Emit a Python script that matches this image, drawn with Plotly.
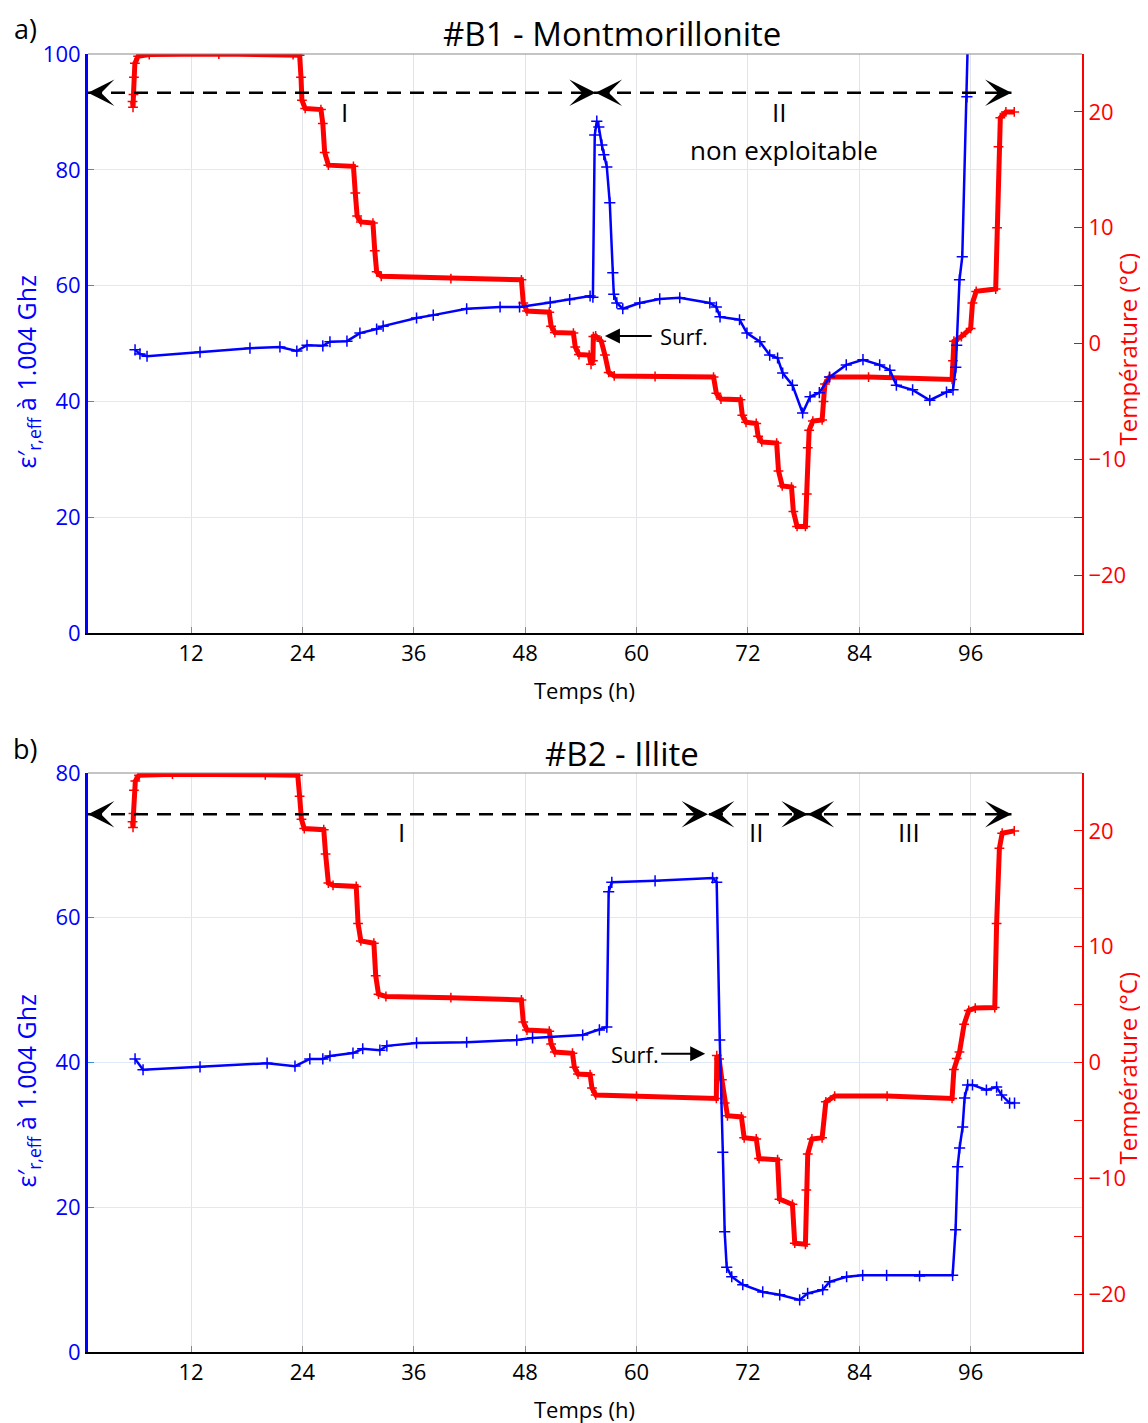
import plotly.graph_objects as go

# ---------------- data: panel a (#B1 - Montmorillonite) ----------------
a_temp_t = [5.7, 5.75, 5.8, 5.85, 5.95, 6.3, 7.5, 15.0, 23.0, 23.7, 23.85, 23.95, 24.3, 26.0, 26.2, 26.4, 26.8,
            29.5, 29.7, 29.9, 30.3, 31.6, 31.8, 32.0, 32.5, 40.0, 47.6, 47.8, 48.2, 50.6, 50.8, 51.2, 53.2, 53.4,
            53.8, 54.9, 55.1, 55.3, 55.35, 55.6, 56.2, 56.6, 57.0, 57.6, 62.0, 68.3, 68.6, 69.1, 71.2, 71.4, 71.8,
            72.9, 73.1, 73.5, 75.1, 75.3, 75.7, 76.7, 76.9, 77.3, 78.2, 78.35, 78.45, 78.6, 79.0, 80.0, 80.15,
            80.3, 80.8, 85.0, 94.0, 94.1, 94.2, 95.0, 96.0, 96.2, 96.6, 98.7, 98.85, 99.0, 99.2, 99.8, 100.7]
a_temp_v = [20.9, 20.4, 21.5, 23.0, 24.2, 24.8, 24.95, 25.0, 24.95, 24.9, 23.0, 21.0, 20.3, 20.2, 19.0, 16.5, 15.4,
            15.3, 13.0, 11.0, 10.5, 10.4, 8.0, 6.2, 5.8, 5.6, 5.5, 3.5, 2.8, 2.7, 1.5, 0.95, 0.9, -0.3,
            -0.95, -1.0, -1.8, -1.5, 0.6, 0.65, 0.2, -1.0, -2.5, -2.8, -2.85, -2.9, -4.3, -4.8, -4.85, -6.2, -6.8,
            -6.9, -8.0, -8.5, -8.6, -11.0, -12.3, -12.4, -14.5, -15.8, -15.8, -13.0, -9.0, -7.5, -6.7, -6.6, -5.0,
            -3.5, -2.9, -2.9, -3.1, -1.5, 0.2, 0.6, 1.3, 3.5, 4.5, 4.7, 10.0, 17.0, 19.5, 20.0, 20.0]

a_eps_t = [5.97, 6.5, 7.26, 12.97, 18.35, 21.58, 23.4, 24.5, 26.2, 26.97, 28.8, 30.2, 32.0, 32.7, 36.3, 38.1,
           41.7, 45.3, 47.4, 50.7, 52.8, 55.0, 55.3, 55.5, 55.72, 55.94, 56.26, 56.48, 56.8, 57.12, 57.45, 57.55,
           57.88, 58.52, 60.35, 62.5, 64.66, 67.9, 68.6, 69.0, 71.1, 71.9, 73.3, 74.35, 75.2, 75.75, 76.8, 77.9,
           78.7, 79.7, 80.8, 82.6, 84.4, 86.2, 87.3, 88.0, 89.75, 91.6, 93.4, 94.1, 94.4, 94.5, 94.8, 95.1, 95.6, 95.9]
a_eps_v = [48.9, 48.2, 47.8, 48.5, 49.2, 49.4, 48.7, 49.7, 49.6, 50.3, 50.4, 51.8, 52.5, 53.0, 54.4, 54.9,
           56.0, 56.3, 56.3, 57.1, 57.6, 58.2, 58.0, 86.0, 88.4, 87.4, 84.3, 82.6, 80.5, 74.3, 62.2, 58.5,
           57.0, 56.0, 57.0, 57.7, 57.9, 57.0, 56.3, 54.6, 54.1, 51.8, 50.3, 48.0, 47.5, 44.9, 42.8, 38.0,
           40.8, 41.5, 44.2, 46.3, 47.2, 46.3, 45.4, 42.8, 42.0, 40.2, 41.6, 42.0, 45.9, 49.7, 61.0, 65.0, 92.6, 115.0]

# ---------------- data: panel b (#B2 - Illite) ----------------
b_temp_t = [5.7, 5.75, 5.8, 5.85, 6.0, 6.4, 10.0, 20.0, 23.5, 23.7, 23.9, 24.2, 26.3, 26.5, 26.8, 27.3, 29.8,
            30.0, 30.3, 31.7, 31.9, 32.2, 33.0, 40.0, 47.6, 47.8, 48.2, 50.6, 50.8, 51.2, 53.1, 53.3, 53.7, 55.0,
            55.2, 55.6, 60.0, 68.6, 68.65, 68.9, 69.2, 69.5, 69.8, 71.3, 71.6, 72.9, 73.2, 75.2, 75.4, 76.8,
            77.05, 78.2, 78.3, 78.45, 78.9, 80.0, 80.4, 81.35, 87.0, 94.0, 94.2, 94.5, 94.8, 95.3, 95.8, 96.5,
            98.6, 98.8, 99.1, 99.4, 100.7]
b_temp_v = [20.8, 20.3, 21.5, 23.5, 24.3, 24.8, 24.9, 24.85, 24.8, 23.0, 21.0, 20.2, 20.1, 18.0, 15.5, 15.3, 15.2,
            12.0, 10.5, 10.3, 7.5, 5.9, 5.7, 5.6, 5.4, 3.5, 2.8, 2.7, 1.6, 0.9, 0.8, -0.4, -1.0, -1.05,
            -2.2, -2.8, -2.9, -3.1, 0.6, 0.3, -1.5, -3.5, -4.6, -4.7, -6.5, -6.6, -8.3, -8.4, -11.8, -12.25,
            -15.6, -15.7, -11.0, -7.9, -6.6, -6.5, -3.4, -2.9, -2.9, -3.1, -0.6, 0.35, 0.9, 3.3, 4.5, 4.7,
            4.75, 12.0, 18.5, 19.8, 20.0]

b_eps_t = [5.97, 6.83, 12.97, 20.2, 23.2, 24.8, 26.2, 26.97, 29.45, 30.5, 32.35, 33.1, 36.3, 41.7, 47.1, 48.8,
           54.2, 56.0, 56.8, 57.0, 57.34, 62.0, 68.2, 68.64, 68.97, 69.3, 69.5, 69.72, 70.26, 71.45, 73.6, 75.43,
           77.58, 78.44, 80.06, 80.81, 82.64, 84.37, 86.95, 90.5, 94.06, 94.38, 94.6, 94.81, 95.14, 95.35, 95.68,
           96.2, 97.7, 98.8, 99.34, 100.2, 100.73]
b_eps_v = [40.5, 39.0, 39.4, 39.9, 39.5, 40.5, 40.5, 40.9, 41.3, 41.9, 41.7, 42.3, 42.7, 42.8, 43.1, 43.4,
           43.8, 44.5, 44.9, 63.6, 64.9, 65.1, 65.5, 64.9, 43.1, 27.6, 16.6, 11.7, 10.4, 9.3, 8.3, 7.9,
           7.2, 8.1, 8.6, 9.7, 10.4, 10.6, 10.6, 10.5, 10.6, 16.9, 25.6, 28.2, 31.1, 35.1, 36.9,
           36.9, 36.2, 36.6, 35.5, 34.4, 34.4]

x_ticks = [12, 24, 36, 48, 60, 72, 84, 96]
temp_ticks = [-20, -10, 0, 10, 20]
titles = ["#B1 - Montmorillonite", "#B2 - Illite"]
panel_labels = ["a)", "b)"]
x_title = "Temps (h)"
eps_title = "ε′<sub>r,eff</sub> à 1.004 Ghz"
temp_title = "Température (°C)"

# phase arrows: boundaries (h) and arrow height (left axis units)
a_phase_bounds = [0.9, 55.6, 100.4]
a_phase_y = 93.3
b_phase_bounds = [0.9, 67.7, 78.45, 100.4]
b_phase_y = 74.3

OFF = 8  # page body margin
W, H = 1148 - OFF, 1423 - OFF
FONT = "Open Sans"
BLUE = "#0000ff"
RED = "#ff0000"

XL, XR = 88, 1082
panels = [(54, 633), (773, 1352)]


def px(x):
    return (x - OFF) / W


def py(y):
    return 1 - (y - OFF) / H


fig = go.Figure()

fig.add_trace(go.Scatter(x=a_temp_t, y=a_temp_v, xaxis="x", yaxis="y", mode="lines+markers",
                         line=dict(color=RED, width=5),
                         marker=dict(symbol="cross-thin", size=7, line=dict(color=RED, width=1.5)),
                         showlegend=False))
fig.add_trace(go.Scatter(x=a_eps_t, y=a_eps_v, xaxis="x", yaxis="y2", mode="lines+markers",
                         line=dict(color=BLUE, width=2.5),
                         marker=dict(symbol="cross-thin", size=8, line=dict(color=BLUE, width=1.5)),
                         showlegend=False))
fig.add_trace(go.Scatter(x=b_temp_t, y=b_temp_v, xaxis="x2", yaxis="y3", mode="lines+markers",
                         line=dict(color=RED, width=5),
                         marker=dict(symbol="cross-thin", size=7, line=dict(color=RED, width=1.5)),
                         showlegend=False))
fig.add_trace(go.Scatter(x=b_eps_t, y=b_eps_v, xaxis="x2", yaxis="y4", mode="lines+markers",
                         line=dict(color=BLUE, width=2.5),
                         marker=dict(symbol="cross-thin", size=8, line=dict(color=BLUE, width=1.5)),
                         showlegend=False))


def xaxis_cfg(anchor):
    return dict(domain=[px(XL), px(XR)], anchor=anchor, range=[0.9, 108], tickvals=x_ticks,
                showgrid=True, gridcolor="#e2e4e8", gridwidth=1, zeroline=False, automargin=False,
                showline=True, linecolor="black", linewidth=2, ticks="inside", ticklen=6,
                tickcolor="#888888", tickfont=dict(family=FONT, size=22, color="black"))


def temp_axis(dom, anchor):
    return dict(domain=dom, anchor=anchor, side="right", range=[-25, 25], tickvals=temp_ticks,
                showgrid=False, zeroline=False, showline=True, linecolor=RED, linewidth=2, automargin=False,
                ticks="inside", ticklen=8, tickcolor=RED, tickfont=dict(family=FONT, size=22, color=RED),
                minor=dict(dtick=5, ticks="inside", ticklen=8, tickcolor=RED, showgrid=False))


def eps_axis(over, anchor, rng, dtick):
    return dict(overlaying=over, anchor=anchor, side="left", range=rng, dtick=dtick, tick0=0,
                showgrid=True, gridcolor="#dde9f6", gridwidth=1, zeroline=False, automargin=False,
                showline=True, linecolor=BLUE, linewidth=3, ticks="inside", ticklen=6,
                tickcolor="#3a8fd8", tickfont=dict(family=FONT, size=22, color=BLUE))


fig.update_layout(
    width=W, height=H, margin=dict(l=0, r=0, t=0, b=0, pad=0, autoexpand=False),
    paper_bgcolor="white", plot_bgcolor="white",
    xaxis=xaxis_cfg("y"),
    xaxis2=xaxis_cfg("y3"),
    yaxis=temp_axis([py(panels[0][1]), py(panels[0][0])], "x"),
    yaxis2=eps_axis("y", "x", [0, 100], 20),
    yaxis3=temp_axis([py(panels[1][1]), py(panels[1][0])], "x2"),
    yaxis4=eps_axis("y3", "x2", [0, 80], 20),
)

ann = []
shapes = []


def txt(s, c="black"):
    return dict(family=FONT, size=s, color=c)


for i, (top, bot) in enumerate(panels):
    mid = (top + bot) / 2
    shapes.append(dict(type="line", xref="paper", yref="paper", x0=px(XL), x1=px(XR), y0=py(top), y1=py(top),
                       line=dict(color="#8a8a8a", width=1.2), layer="above"))
    ann.append(dict(text=titles[i], xref="paper", yref="paper", x=px(612 + 10 * i), y=py(top - 20),
                    showarrow=False, font=txt(33), xanchor="center", yanchor="middle"))
    ann.append(dict(text=panel_labels[i], xref="paper", yref="paper", x=px(25), y=py(top - 25),
                    showarrow=False, font=txt(27), xanchor="center", yanchor="middle"))
    ann.append(dict(text=x_title, xref="paper", yref="paper", x=px(584), y=py(bot + 57),
                    showarrow=False, font=txt(22), xanchor="center", yanchor="middle"))
    ann.append(dict(text=eps_title, xref="paper", yref="paper", x=px(27), y=py(mid + 29),
                    showarrow=False, font=txt(25, BLUE), textangle=-90, xanchor="center", yanchor="middle"))
    ann.append(dict(text=temp_title, xref="paper", yref="paper", x=px(1127), y=py(mid + 6),
                    showarrow=False, font=txt(24, RED), textangle=-90, xanchor="center", yanchor="middle"))

for bounds, yv, xr, yr in [(a_phase_bounds, a_phase_y, "x", "y2"), (b_phase_bounds, b_phase_y, "x2", "y4")]:
    shapes.append(dict(type="line", xref=xr, yref=yr, x0=bounds[0], x1=bounds[-1], y0=yv, y1=yv,
                       line=dict(color="black", width=2.6, dash="14px,9px"), layer="above"))
    for j in range(len(bounds) - 1):
        for head, direction in [(bounds[j], 1), (bounds[j + 1], -1)]:
            ann.append(dict(text="", xref=xr, yref=yr, x=head, y=yv, ax=direction * 14, ay=0,
                            showarrow=True, arrowhead=3, arrowsize=2.2, arrowwidth=2, arrowcolor="black",
                            standoff=0))

ann += [
    dict(text="I", xref="x", yref="y2", x=28.5, y=90.0, showarrow=False, font=txt(26)),
    dict(text="II", xref="x", yref="y2", x=75.4, y=90.0, showarrow=False, font=txt(26)),
    dict(text="non exploitable", xref="x", yref="y2", x=75.9, y=83.4, showarrow=False, font=txt(26)),
    dict(text="I", xref="x2", yref="y4", x=34.7, y=71.8, showarrow=False, font=txt(26)),
    dict(text="II", xref="x2", yref="y4", x=72.95, y=71.8, showarrow=False, font=txt(26)),
    dict(text="III", xref="x2", yref="y4", x=89.4, y=71.8, showarrow=False, font=txt(26)),
]

ann += [
    dict(text="", xref="x", yref="y2", x=56.6, y=51.3, axref="x", ayref="y2", ax=61.8, ay=51.3,
         showarrow=True, arrowhead=2, arrowsize=1.5, arrowwidth=2, arrowcolor="black", standoff=0),
    dict(text="Surf.", xref="x", yref="y2", x=65.1, y=51.3, showarrow=False, font=txt(22)),
    dict(text="", xref="x2", yref="y4", x=67.4, y=41.2, axref="x2", ayref="y4", ax=62.5, ay=41.2,
         showarrow=True, arrowhead=2, arrowsize=1.5, arrowwidth=2, arrowcolor="black", standoff=0),
    dict(text="Surf.", xref="x2", yref="y4", x=59.8, y=41.2, showarrow=False, font=txt(22)),
]

fig.update_layout(annotations=ann, shapes=shapes)
fig.write_html("out.html")
